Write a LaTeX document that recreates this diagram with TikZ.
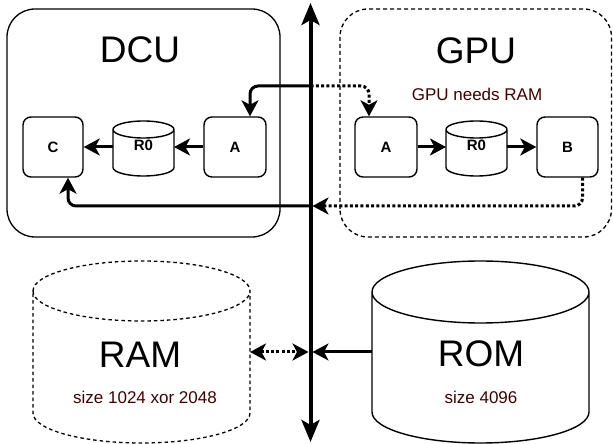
\documentclass[tikz,border=0pt]{standalone}
\usepackage{fontspec}
\setmainfont{Liberation Sans}
\usetikzlibrary{arrows.meta,calc}
\definecolor{txtred}{RGB}{64,0,0}
\newcommand\mycyl[3]{%
  \path[#1] let \p1=(#2.north west), \p2=(#2.south east), \n1={(\x2-\x1)/2} in
    (\x1,\y1-#3) arc[start angle=180,end angle=0,x radius=\n1,y radius=#3]
    -- (\x2,\y2+#3) arc[start angle=0,end angle=-180,x radius=\n1,y radius=#3] -- cycle
    (\x1,\y1-#3) arc[start angle=180,end angle=360,x radius=\n1,y radius=#3];
}
\begin{document}
\begin{tikzpicture}[x=1pt,y=1pt,
  box/.style={draw, line width=1.4pt, rounded corners=8pt, minimum width=61pt, minimum height=60pt,
    font=\bfseries\fontsize{15}{17}\selectfont, inner sep=0pt},
  cylnode/.style={draw=none, inner sep=0pt, outer sep=0pt},
  r0lbl/.style={font=\bfseries\fontsize{15}{17}\selectfont, inner sep=0pt, yshift=3.5pt},
  big/.style={font=\fontsize{37}{40}\selectfont, inner sep=0pt},
  small/.style={font=\fontsize{17}{19}\selectfont, text=txtred, inner sep=0pt},
  tipA/.tip={Stealth[length=16pt,width=17pt,inset=4.5pt]},
  tipB/.tip={Stealth[length=22pt,width=18pt,inset=5pt]},
  arr/.style={line width=3pt, -tipA, rounded corners=8pt},
  dotarr/.style={arr, dash pattern=on 3pt off 2.3pt},
  solidcyl/.style={draw, line width=1.4pt},
  dashcyl/.style={draw, line width=1.3pt, dash pattern=on 3.5pt off 3pt},
  group/.style={draw, line width=1.3pt, rounded corners=28pt},
]
\useasboundingbox (0,0) rectangle (613,444);

% group boxes
\draw[group] (7,207) rectangle (280,435);
\draw[group, dash pattern=on 4pt off 3pt] (340,207) rectangle (611.5,435);
\node[big] (dcu) at (140,394) {DCU};
\node[big] (gpu) at (476,393) {GPU};
\node[small] (needs) at (477,350) {GPU needs RAM};

% DCU nodes
\node[box, minimum width=60pt] (dC) at (53,297) {C};
\node[cylnode, minimum width=61pt, minimum height=55pt, label={[r0lbl]center:R0}] (dR) at (143.5,295.5) {};
\mycyl{solidcyl}{dR}{8.5pt}
\node[box, minimum width=62pt] (dA) at (235,297) {A};

% GPU nodes
\node[box, minimum width=62pt] (gA) at (386,297) {A};
\node[cylnode, minimum width=61pt, minimum height=55pt, label={[r0lbl]center:R0}] (gR) at (476.5,295.5) {};
\mycyl{solidcyl}{gR}{8.5pt}
\node[box] (gB) at (567.5,297) {B};

% memories
\node[cylnode, minimum width=217pt, minimum height=182pt] (ram) at (141.5,92) {};
\mycyl{dashcyl}{ram}{30pt}
\node[big] (ramlbl) at (140,89) {RAM};
\node[small] (ramsize) at (145,47) {size 1024 xor 2048};

\node[cylnode, minimum width=217pt, minimum height=182pt] (rom) at (480.5,92) {};
\mycyl{solidcyl}{rom}{31pt}
\node[big] (romlbl) at (481,90) {ROM};
\node[small] (romsize) at (481,47) {size 4096};

% bus
\coordinate (bustop) at (310.5,441);
\coordinate (busbot) at (310.5,2);
\draw[line width=4pt, tipB-tipB] (busbot) -- (bustop);
\coordinate (b1) at (310.5,358);
\coordinate (b2) at (310.5,238);
\coordinate (b3) at (312.5,238);
\coordinate (b4) at (312.5,92);
\coordinate (b5) at (308.5,92);

% connectors
\draw[arr] (dA.west) -- (dA.west -| dR.east);
\draw[arr] (dC.east -| dR.west) -- (dC.east);
\draw[arr] (gA.east) -- (gA.east -| gR.west);
\draw[arr] (gB.west -| gR.east) -- (gB.west);
\draw[arr] (b1) -| ([xshift=15pt]dA.north);
\draw[arr] (b2) -| ([xshift=15pt]dC.south);
\draw[dotarr] (b1) -| ([xshift=-17pt]gA.north);
\draw[dotarr] ([xshift=15pt]gB.south) |- (b3);
\draw[arr] (rom.west) -- (b4);
\draw[dotarr, tipA-tipA] (ram.east) -- (b5);
\end{tikzpicture}
\end{document}
